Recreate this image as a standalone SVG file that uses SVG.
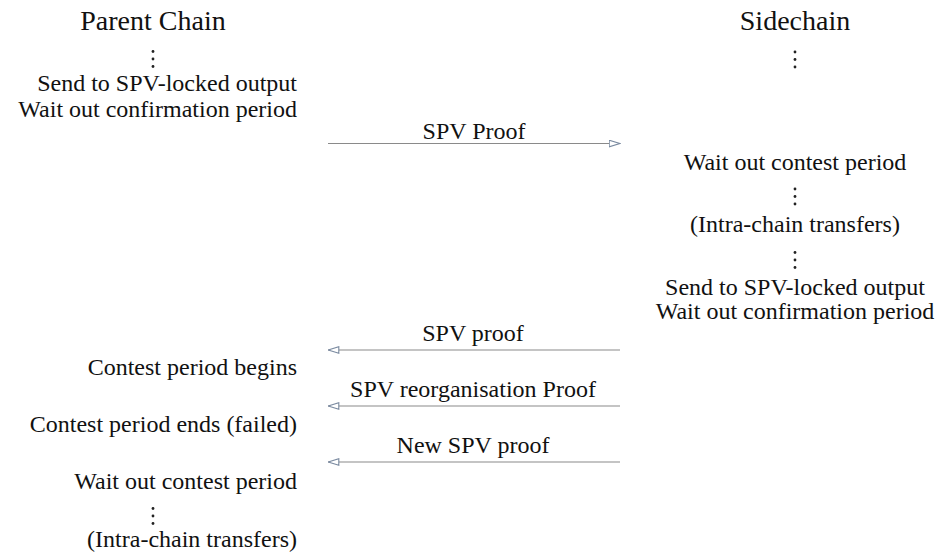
<svg xmlns="http://www.w3.org/2000/svg" width="942" height="554" viewBox="0 0 942 554">
  <style>
    text { font-family: "Times New Roman", Times, "Liberation Serif", "Noto Serif", "DejaVu Serif", serif; fill: #111; }
    .title { font-size: 28px; text-anchor: middle; }
    .step { font-size: 24px; }
    .left { text-anchor: end; }
    .mid { text-anchor: middle; }
    .msg { stroke: #8a8a8a; stroke-width: 1.2; fill: none; }
    .dot { fill: #222; }
  </style>
  <defs>
    <marker id="openTri" viewBox="0 0 12 8" refX="11.5" refY="4" markerWidth="12" markerHeight="8" markerUnits="userSpaceOnUse" orient="auto">
      <path d="M0.7,0.7 L11.3,4 L0.7,7.3 Z" fill="#fff" stroke="#7a8aa0" stroke-width="1.1"/>
    </marker>
    <g id="vdots">
      <circle cx="0" cy="0" r="1.4" class="dot"/>
      <circle cx="0" cy="7.5" r="1.4" class="dot"/>
      <circle cx="0" cy="15" r="1.4" class="dot"/>
    </g>
  </defs>

  <!-- parent chain column -->
  <g id="parent-chain">
    <text class="title" x="153" y="30">Parent Chain</text>
    <use href="#vdots" x="153" y="51.5"/>
    <text class="step left" x="297" y="91">Send to SPV-locked output</text>
    <text class="step left" x="297" y="117">Wait out confirmation period</text>
  </g>
  <g id="parent-contest-begins">
    <text class="step left" x="297" y="375">Contest period begins</text>
  </g>
  <g id="parent-contest-ends">
    <text class="step left" x="297" y="432">Contest period ends (failed)</text>
  </g>
  <g id="parent-wait">
    <text class="step left" x="297" y="489">Wait out contest period</text>
    <use href="#vdots" x="153" y="508.5"/>
    <text class="step left" x="297" y="547">(Intra-chain transfers)</text>
  </g>

  <!-- sidechain column -->
  <g id="sidechain">
    <text class="title" x="795" y="30">Sidechain</text>
    <use href="#vdots" x="795" y="52"/>
  </g>
  <g id="side-wait">
    <text class="step mid" x="795" y="170">Wait out contest period</text>
    <use href="#vdots" x="795" y="189"/>
    <text class="step mid" x="795" y="232">(Intra-chain transfers)</text>
    <use href="#vdots" x="795" y="252.5"/>
    <text class="step mid" x="795" y="295">Send to SPV-locked output</text>
    <text class="step mid" x="795" y="319">Wait out confirmation period</text>
  </g>

  <!-- messages between the chains -->
  <g id="connectors">
    <line class="msg" x1="328" y1="143.5" x2="620" y2="143.5" marker-end="url(#openTri)"/>
    <text class="step mid" x="474" y="139">SPV Proof</text>

    <line class="msg" x1="620" y1="350" x2="328" y2="350" marker-end="url(#openTri)"/>
    <text class="step mid" x="473" y="341">SPV proof</text>

    <line class="msg" x1="620" y1="406" x2="328" y2="406" marker-end="url(#openTri)"/>
    <text class="step mid" x="473" y="397">SPV reorganisation Proof</text>

    <line class="msg" x1="620" y1="462" x2="328" y2="462" marker-end="url(#openTri)"/>
    <text class="step mid" x="473" y="453">New SPV proof</text>
  </g>
</svg>
